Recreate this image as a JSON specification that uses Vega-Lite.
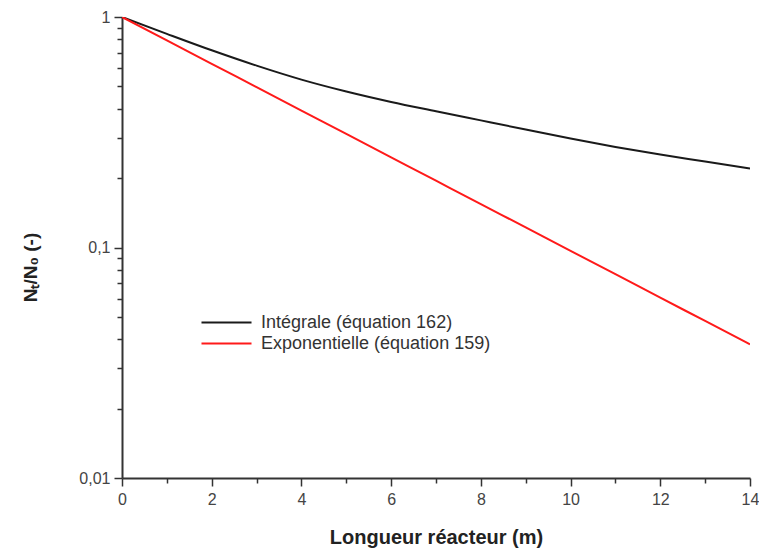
{
  "$schema": "https://vega.github.io/schema/vega-lite/v6.json",
  "width": 628,
  "height": 461,
  "autosize": {"type": "none"},
  "padding": {"left": 122, "top": 17, "right": 9, "bottom": 77},
  "background": "white",
  "config": {
    "view": {"stroke": null},
    "font": "Liberation Sans"
  },
  "data": {
    "values": [
      {"x": 0, "y": 1, "s": "Intégrale (équation 162)"},
      {"x": 1, "y": 0.845, "s": "Intégrale (équation 162)"},
      {"x": 2, "y": 0.717, "s": "Intégrale (équation 162)"},
      {"x": 3, "y": 0.615, "s": "Intégrale (équation 162)"},
      {"x": 4, "y": 0.535, "s": "Intégrale (équation 162)"},
      {"x": 5, "y": 0.475, "s": "Intégrale (équation 162)"},
      {"x": 6, "y": 0.428, "s": "Intégrale (équation 162)"},
      {"x": 7, "y": 0.39, "s": "Intégrale (équation 162)"},
      {"x": 8, "y": 0.356, "s": "Intégrale (équation 162)"},
      {"x": 9, "y": 0.325, "s": "Intégrale (équation 162)"},
      {"x": 10, "y": 0.297, "s": "Intégrale (équation 162)"},
      {"x": 11, "y": 0.273, "s": "Intégrale (équation 162)"},
      {"x": 12, "y": 0.253, "s": "Intégrale (équation 162)"},
      {"x": 13, "y": 0.236, "s": "Intégrale (équation 162)"},
      {"x": 14, "y": 0.22, "s": "Intégrale (équation 162)"},
      {"x": 0, "y": 1, "s": "Exponentielle (équation 159)"},
      {"x": 1, "y": 0.7917, "s": "Exponentielle (équation 159)"},
      {"x": 2, "y": 0.6267, "s": "Exponentielle (équation 159)"},
      {"x": 3, "y": 0.4962, "s": "Exponentielle (équation 159)"},
      {"x": 4, "y": 0.3928, "s": "Exponentielle (équation 159)"},
      {"x": 5, "y": 0.311, "s": "Exponentielle (équation 159)"},
      {"x": 6, "y": 0.2462, "s": "Exponentielle (équation 159)"},
      {"x": 7, "y": 0.1949, "s": "Exponentielle (équation 159)"},
      {"x": 8, "y": 0.1543, "s": "Exponentielle (équation 159)"},
      {"x": 9, "y": 0.1222, "s": "Exponentielle (équation 159)"},
      {"x": 10, "y": 0.0967, "s": "Exponentielle (équation 159)"},
      {"x": 11, "y": 0.0766, "s": "Exponentielle (équation 159)"},
      {"x": 12, "y": 0.0606, "s": "Exponentielle (équation 159)"},
      {"x": 13, "y": 0.048, "s": "Exponentielle (équation 159)"},
      {"x": 14, "y": 0.038, "s": "Exponentielle (équation 159)"}
    ]
  },
  "mark": {"type": "line", "strokeWidth": 2, "interpolate": "monotone", "clip": true},
  "encoding": {
    "x": {
      "field": "x",
      "type": "quantitative",
      "scale": {"domain": [0, 14], "nice": false, "zero": false},
      "axis": {
        "title": "Longueur réacteur (m)",
        "values": [0, 1, 2, 3, 4, 5, 6, 7, 8, 9, 10, 11, 12, 13, 14],
        "labelExpr": "datum.value % 2 == 0 ? datum.label : ''",
        "grid": false,
        "domainColor": "#333333",
        "domainWidth": 2,
        "tickColor": "#333333",
        "tickWidth": 1.5,
        "tickSize": {"condition": {"test": "datum.value % 2 == 0", "value": 8}, "value": 5},
        "labelFontSize": 16,
        "labelColor": "#444444",
        "labelPadding": 5,
        "labelFlush": false,
        "titleFontSize": 20,
        "titleFontWeight": "bold",
        "titleColor": "#222222",
        "titleBaseline": "middle",
        "titleY": 59
      }
    },
    "y": {
      "field": "y",
      "type": "quantitative",
      "scale": {"type": "log", "domain": [0.01, 1], "nice": false},
      "axis": {
        "title": "Nₜ/N₀ (-)",
        "values": [0.01, 0.02, 0.03, 0.04, 0.05, 0.06, 0.07, 0.08, 0.09, 0.1, 0.2, 0.3, 0.4, 0.5, 0.6, 0.7, 0.8, 0.9, 1],
        "labelExpr": "datum.value == 1 ? '1' : datum.value == 0.1 ? '0,1' : datum.value == 0.01 ? '0,01' : ''",
        "grid": false,
        "domainColor": "#333333",
        "domainWidth": 2,
        "tickColor": "#333333",
        "tickWidth": 1.5,
        "tickSize": {"condition": {"test": "datum.value == 1 || datum.value == 0.1 || datum.value == 0.01", "value": 8}, "value": 5},
        "labelFontSize": 16,
        "labelColor": "#444444",
        "labelPadding": 4,
        "labelFlush": false,
        "titleFontSize": 19,
        "titleFontWeight": "bold",
        "titleColor": "#222222",
        "titleAngle": -90,
        "titleBaseline": "middle",
        "titleX": -92,
        "titleY": 250
      }
    },
    "color": {
      "field": "s",
      "type": "nominal",
      "scale": {
        "domain": ["Intégrale (équation 162)", "Exponentielle (équation 159)"],
        "range": ["#1a1a1a", "#ff1a1a"]
      },
      "legend": {
        "title": null,
        "orient": "none",
        "legendX": 95,
        "legendY": 296,
        "symbolType": "M-3,0H3",
        "symbolSize": 278,
        "symbolStrokeWidth": 2,
        "labelFontSize": 18,
        "labelColor": "#333333",
        "labelOffset": 25,
        "labelLimit": 400,
        "rowPadding": 2,
        "padding": 0
      }
    }
  }
}
